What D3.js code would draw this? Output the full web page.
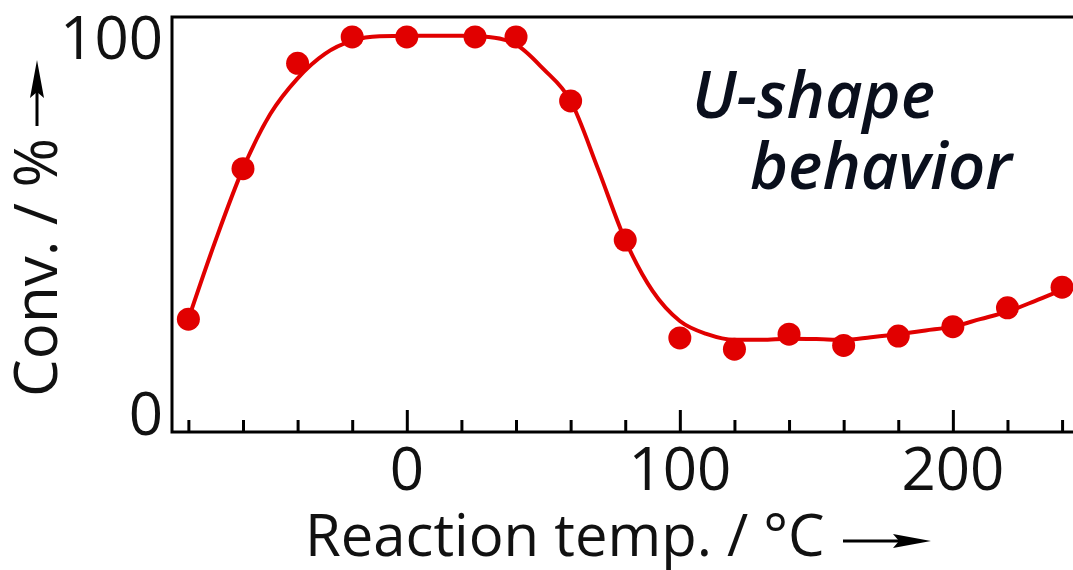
<!DOCTYPE html>
<html>
<head>
<meta charset="utf-8">
<script src="https://cdn.jsdelivr.net/npm/d3@7"></script>
<style>
  body{margin:0;background:#fff;}
  svg text{font-family:"Open Sans","Noto Sans",sans-serif;}
</style>
</head>
<body>
<div class="canvas"></div>
<script>
// measured points
const temps=[-80,-60,-40,-20,0,25,40,60,80,100,120,140,160,180,200,220,240];
const conv=[25,65,93,100,100,100,100,83,46,20,17,21,18,20.5,23,28,33.5];
// fitted trend line
const fitTemps=[-80,-70,-60,-50,-40,-30,-20,-10,0,10,20,30,40,50,60,70,80,90,100,110,120,130,140,150,160,170,180,190,200,210,220,230,240,244];
const fitConv=[25,46,65,79.5,89,95.5,99,100.2,100.3,100.3,100.3,100,98,91.5,83,65,46,32.5,24.5,21,19.5,19.5,19.8,19.7,19.5,20.2,21,22,23,25,27,29.8,32.8,34];
const xMinor=[-80,-60,-40,-20,20,40,60,80,120,140,160,180,220,240];
const xMajor=[0,100,200];
const yLabels=[0,100];

const width=1073,height=570;
const svg=d3.select('.canvas')
  .append('svg')
    .attr('width',width)
    .attr('height',height);

const mLeft=172,mTop=17,mBottom=432;

const x=d3.scaleLinear().domain([-86,244]).range([mLeft,width]);
const y=d3.scaleLinear().domain([-5,105.3]).range([mBottom,mTop]);

const red='#e10000';

// frame: top, left, bottom
svg.append('path')
  .attr('d',`M${width},${mTop}H${mLeft}V${mBottom}H${width}`)
  .attr('fill','none')
  .attr('stroke','#000')
  .attr('stroke-width',3);

// ticks pointing inward (up)
const xAxisMinor=d3.axisTop(x).tickValues(xMinor).tickSize(12).tickFormat('');
const xAxisMajor=d3.axisTop(x).tickValues(xMajor).tickSize(22).tickFormat('');
[xAxisMinor,xAxisMajor].forEach(ax=>{
  const g=svg.append('g').attr('transform',`translate(0,${mBottom})`).call(ax);
  g.select('.domain').remove();
  g.selectAll('line').attr('stroke','#000').attr('stroke-width',3);
});

// x tick labels
svg.append('g').selectAll('text')
  .data(xMajor).enter().append('text')
    .attr('x',d=>x(d))
    .attr('y',mBottom+58)
    .attr('text-anchor','middle')
    .attr('font-size',60)
    .attr('fill','#111')
    .text(d=>d);

// y tick labels
svg.append('g').selectAll('text')
  .data(yLabels).enter().append('text')
    .attr('x',mLeft-9)
    .attr('y',d=>y(d))
    .attr('dy','0.36em')
    .attr('text-anchor','end')
    .attr('font-size',60)
    .attr('fill','#111')
    .text(d=>d);

// fitted curve
const fit=fitTemps.map((t,i)=>({t:t,v:fitConv[i]}));
const line=d3.line().x(d=>x(d.t)).y(d=>y(d.v)).curve(d3.curveMonotoneX);
svg.append('path')
  .datum(fit)
  .attr('d',line)
  .attr('fill','none')
  .attr('stroke',red)
  .attr('stroke-width',4);

// data markers
const pts=temps.map((t,i)=>({t:t,v:conv[i]}));
svg.append('g').selectAll('circle')
  .data(pts).enter().append('circle')
    .attr('cx',d=>x(d.t))
    .attr('cy',d=>y(d.v))
    .attr('r',11.5)
    .attr('fill',red);

// axis titles with arrows
svg.append('text')
  .attr('x',305)
  .attr('y',556)
  .attr('font-size',58)
  .attr('fill','#111')
  .text('Reaction temp. / °C');
svg.append('line')
  .attr('x1',843).attr('x2',900).attr('y1',541).attr('y2',541)
  .attr('stroke','#000').attr('stroke-width',3);
svg.append('path')
  .attr('d','M893,534L931,541L893,548L899,541Z')
  .attr('fill','#000');

svg.append('text')
  .attr('transform','translate(57,397) rotate(-90)')
  .attr('font-size',60)
  .attr('fill','#111')
  .text('Conv. / %');
svg.append('line')
  .attr('x1',37).attr('x2',37).attr('y1',126).attr('y2',92)
  .attr('stroke','#000').attr('stroke-width',3);
svg.append('path')
  .attr('d','M30,98L37,60L44,98L37,92Z')
  .attr('fill','#000');

// annotation
const note=svg.append('text')
  .attr('font-size',65)
  .attr('font-style','italic')
  .attr('font-weight',600)
  .attr('fill','#0a0f1c');
note.append('tspan').attr('x',692).attr('y',118).text('U-shape');
note.append('tspan').attr('x',750).attr('y',189).text('behavior');
</script>
</body>
</html>
